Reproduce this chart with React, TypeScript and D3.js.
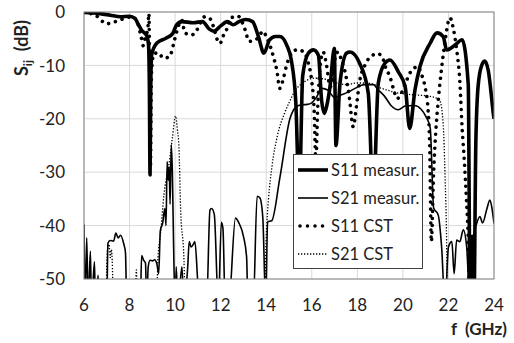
import React, { useEffect, useRef } from 'react';
import * as d3 from 'd3';

type Pt = [number, number];

// frequency (GHz), magnitude (dB)
const s11Meas: Pt[] = [
  [6, -0.1], [6.7, -0.3], [7.15, -0.6], [7.6, -0.9], [8.0, -0.8], [8.24, -1.2], [8.38, -2.3],
  [8.53, -3.4], [8.75, -4.4], [8.83, -6], [8.87, -14], [8.9, -30.5], [8.93, -14], [8.97, -8],
  [9.2, -5.8], [9.6, -4.9], [9.9, -4.0], [10.05, -2.5], [10.3, -1.8], [10.8, -2.0], [11.2, -1.8],
  [11.5, -3.2], [11.7, -3.6], [12.0, -2.6], [12.3, -1.8], [12.55, -2.4], [12.8, -1.8], [13.1, -1.4],
  [13.4, -1.8], [13.65, -4.5], [13.9, -7.7], [14.15, -5.2], [14.4, -4.6], [14.6, -4.6], [14.9, -6.2],
  [15.1, -9], [15.3, -17], [15.45, -35], [15.6, -12], [15.85, -7.7], [16.07, -7.1], [16.29, -8.1],
  [16.43, -16.5], [16.55, -19], [16.65, -17.7], [16.8, -14], [16.99, -6.8], [17.06, -25], [17.24, -13.3],
  [17.53, -7.7], [17.68, -7.5], [18.1, -9.6], [18.48, -15.2], [18.7, -35], [18.92, -13.3], [19.21, -9.6],
  [19.43, -9], [19.8, -11.2], [20.1, -14], [20.3, -21.8], [20.53, -14.6], [20.75, -10.2], [21.19, -5.9],
  [21.5, -3.9], [21.77, -4.6], [21.92, -7.1], [22.29, -6.2], [22.6, -5.2], [22.87, -13.6], [22.95, -55],
  [23.05, -42], [23.12, -55], [23.2, -25], [23.3, -14], [23.46, -10], [23.6, -9.2], [23.75, -11],
  [23.97, -19], [24, -20],
];

const s21Meas: Pt[] = [
  [6.0, -39.8], [6.04, -55], [6.12, -42.3], [6.18, -55], [6.28, -44.8], [6.33, -55], [6.46, -46.8],
  [6.5, -55], [6.62, -49.3], [6.66, -55], [7.0, -55], [7.05, -43.3], [7.15, -42.8], [7.3, -42.9],
  [7.4, -41.4], [7.5, -42.3], [7.6, -41.8], [7.75, -43.5], [7.82, -45], [7.88, -55], [8.47, -55],
  [8.53, -45.6], [8.62, -46.5], [8.7, -47], [8.75, -55], [8.82, -47.7], [8.9, -46.5], [9.0, -46.6],
  [9.1, -46.4], [9.2, -47.2], [9.28, -49], [9.35, -41], [9.45, -39.6], [9.55, -36.8], [9.6, -40],
  [9.65, -28], [9.7, -31.5], [9.74, -29], [9.78, -36], [9.83, -24.8], [9.88, -30], [9.93, -42.9],
  [10.0, -55], [10.05, -47.7], [10.12, -55], [10.3, -47.7], [10.38, -55], [10.55, -48], [10.62, -43],
  [10.7, -44], [10.8, -43.5], [10.87, -43], [10.98, -49.6], [11.05, -55], [11.38, -55], [11.53, -37.1],
  [11.6, -36.8], [11.72, -37.9], [11.9, -55], [12.03, -39.4], [12.1, -40.5], [12.2, -55], [12.35, -55],
  [12.65, -38.6], [12.8, -39.5], [13.0, -42], [13.14, -46], [13.2, -55], [13.43, -55], [13.6, -34.5],
  [13.72, -34.8], [13.85, -38.5], [13.98, -55], [14.06, -39.3], [14.24, -39.1], [14.6, -31], [15.04, -20],
  [15.3, -17.8], [15.5, -17.4], [15.8, -17.3], [16.0, -17], [16.2, -16], [16.45, -14.3], [16.7, -14.6],
  [17.0, -16], [17.3, -15.5], [17.6, -15], [17.9, -14.3], [18.3, -13.6], [18.7, -13.6], [18.9, -14.5],
  [19.2, -15.8], [19.5, -17.6], [19.8, -18.3], [20.1, -17.6], [20.5, -17.5], [20.8, -18.2], [21.0, -19.5],
  [21.2, -21.7], [21.35, -36.7], [21.55, -38], [21.7, -44], [21.85, -55], [22.0, -44], [22.15, -43],
  [22.25, -49], [22.36, -42.7], [22.5, -43], [22.65, -40.8], [22.8, -44], [22.95, -55], [23.1, -42],
  [23.24, -39.6], [23.38, -38.3], [23.5, -39.5], [23.68, -37], [23.82, -35.2], [23.9, -36.5], [24, -39.6],
];

const s11Cst: Pt[] = [
  [6, -0.1], [6.5, -0.6], [7.0, -2.2], [7.3, -1.9], [7.7, -1.3], [8.1, -0.9], [8.35, -2], [8.5, -4.5],
  [8.6, -6.3], [8.7, -4.5], [8.8, -3.2], [8.85, -0.3], [8.88, -10], [8.92, -29], [8.96, -12], [9.05, -8],
  [9.26, -7.6], [9.48, -8.6], [9.7, -8.5], [9.85, -7.4], [9.92, -6.2], [10.07, -3.7], [10.29, -1.5],
  [10.43, -3.9], [10.73, -4.3], [10.95, -3.4], [11.3, -0.9], [11.5, -1.1], [11.68, -2.7], [11.85, -5.2],
  [11.97, -5.9], [12.1, -4.6], [12.26, -3.3], [12.45, -1.1], [12.77, -0.8], [13.07, -3.3], [13.25, -5.5],
  [13.43, -5.4], [13.6, -5], [13.87, -3.6], [14.0, -4.6], [14.2, -6.7], [14.31, -8.3], [14.46, -10.8],
  [14.6, -14.3], [14.75, -12.5], [14.9, -9.9], [15.12, -7.7], [15.34, -7.1], [15.63, -7.4], [15.85, -9.6],
  [16.0, -13], [16.1, -18], [16.18, -28], [16.26, -18], [16.4, -9], [16.5, -7.5], [16.65, -10],
  [16.8, -14], [16.95, -12], [17.05, -8], [17.15, -7.5], [17.3, -9], [17.5, -12], [17.65, -16],
  [17.82, -21.5], [17.95, -18], [18.1, -13], [18.33, -10], [18.6, -8.3], [18.9, -7.8], [19.1, -8.5],
  [19.25, -10.5], [19.43, -12.1], [19.6, -14.6], [19.75, -16.2], [19.9, -15.5], [20.1, -13.5],
  [20.3, -11.5], [20.5, -10.5], [20.65, -10.2], [20.8, -11.5], [20.97, -14], [21.1, -18], [21.17, -24],
  [21.25, -43], [21.35, -30], [21.45, -22], [21.55, -16.7], [21.7, -10.5], [21.85, -5.5], [22.0, -1.7],
  [22.07, -1.1], [22.21, -3], [22.35, -6.7], [22.5, -13], [22.6, -21.7], [22.7, -28], [22.78, -34.3],
  [22.87, -43], [22.95, -60], [24, -60],
];

const s21Cst: Pt[] = [
  [6, -60], [6.95, -60], [7.0, -47], [7.05, -44], [7.1, -43.5], [7.15, -46], [7.2, -44.5], [7.25, -48],
  [7.3, -60], [8.2, -60], [8.3, -48.3], [8.36, -60], [9.15, -60], [9.25, -46], [9.35, -42], [9.51, -34.2],
  [9.73, -28.6], [9.88, -23.6], [10.02, -19.5], [10.1, -22], [10.17, -25.5], [10.24, -36.7], [10.39, -46.6],
  [10.47, -60], [13.88, -60], [14.0, -42], [14.1, -35], [14.25, -29], [14.5, -23], [14.8, -19], [15.0, -17],
  [15.26, -14.8], [15.7, -13], [16.1, -12.4], [16.5, -12.5], [17.0, -13.2], [17.5, -13.6], [18.0, -13.3],
  [18.33, -13.3], [18.7, -13.5], [19.0, -14.2], [19.3, -14.6], [19.6, -15], [20.0, -15.3], [20.4, -15.5],
  [20.8, -15.6], [21.2, -15.8], [21.5, -16.2], [21.63, -16.7], [21.77, -21.1], [21.85, -30.5], [21.92, -43],
  [21.97, -60], [24, -60],
];

const xTicks = [6, 8, 10, 12, 14, 16, 18, 20, 22, 24];
const yTicks = [0, -10, -20, -30, -40, -50];
const legendLabels = ['S11 measur.', 'S21 measur.', 'S11 CST', 'S21 CST'];

const FONT = 'Lato, "Open Sans", sans-serif';

export default function App() {
  const svgRef = useRef<SVGSVGElement>(null);

  useEffect(() => {
    if (!svgRef.current) return;
    const width = 514;
    const height = 343;
    const left = 84, right = 494, top = 12, bottom = 279;

    const svg = d3.select(svgRef.current);
    svg.selectAll('*').remove();
    svg.attr('width', width).attr('height', height);

    svg.append('rect').attr('width', width).attr('height', height).attr('fill', '#fff');

    const x = d3.scaleLinear().domain([6, 24]).range([left, right]);
    const y = d3.scaleLinear().domain([-50, 0]).range([bottom, top]);

    // grid
    const grid = svg.append('g');
    grid.selectAll('.gx').data(xTicks).enter().append('line')
      .attr('x1', (d) => x(d)).attr('x2', (d) => x(d))
      .attr('y1', top).attr('y2', bottom)
      .attr('stroke', '#d9d9d9').attr('stroke-width', 1);
    grid.selectAll('.gy').data(yTicks).enter().append('line')
      .attr('x1', left).attr('x2', right)
      .attr('y1', (d) => y(d)).attr('y2', (d) => y(d))
      .attr('stroke', '#d9d9d9').attr('stroke-width', 1);

    // tick labels
    svg.selectAll('.xt').data(xTicks).enter().append('text')
      .attr('x', (d) => x(d)).attr('y', 311)
      .attr('text-anchor', 'middle')
      .style('font-family', FONT).style('font-size', '17px').style('fill', '#222')
      .text((d) => d);
    svg.selectAll('.yt').data(yTicks).enter().append('text')
      .attr('x', 65).attr('y', (d) => y(d))
      .attr('dy', '0.36em')
      .attr('text-anchor', 'end')
      .style('font-family', FONT).style('font-size', '17px').style('fill', '#222')
      .text((d) => d);

    svg.append('defs').append('clipPath').attr('id', 'plot-clip')
      .append('rect').attr('x', left).attr('y', top)
      .attr('width', right - left).attr('height', bottom - top);

    const line = d3.line<Pt>()
      .x((d) => x(d[0]))
      .y((d) => y(d[1]))
      .curve(d3.curveMonotoneX);

    const plot = svg.append('g').attr('clip-path', 'url(#plot-clip)');

    const series = [
      { data: s21Cst, width: 1.3, dash: '1.3 1.7', cap: 'butt' },
      { data: s11Cst, width: 3.6, dash: '0.01 7', cap: 'round' },
      { data: s21Meas, width: 1.6, dash: null, cap: 'butt' },
      { data: s11Meas, width: 3.6, dash: null, cap: 'butt' },
    ];

    series.forEach((s) => {
      const p = plot.append('path')
        .attr('d', line(s.data))
        .attr('fill', 'none')
        .attr('stroke', '#000')
        .attr('stroke-width', s.width)
        .attr('stroke-linejoin', 'round')
        .attr('stroke-linecap', s.cap);
      if (s.dash) p.attr('stroke-dasharray', s.dash);
    });

    // plot border
    svg.append('rect')
      .attr('x', left).attr('y', top)
      .attr('width', right - left).attr('height', bottom - top)
      .attr('fill', 'none').attr('stroke', '#868686').attr('stroke-width', 1);

    // legend
    const lg = svg.append('g');
    lg.append('rect')
      .attr('x', 293.5).attr('y', 154.5).attr('width', 129).attr('height', 114)
      .attr('fill', '#fff').attr('stroke', '#404040').attr('stroke-width', 1);
    const styles = [
      { width: 3.6, dash: null, cap: 'butt' },
      { width: 1.6, dash: null, cap: 'butt' },
      { width: 3.6, dash: '0.01 7.5', cap: 'round' },
      { width: 1.3, dash: '1.3 1.7', cap: 'butt' },
    ];
    const rowY = [170, 198, 226, 254];
    legendLabels.forEach((label, i) => {
      const st = styles[i];
      const l = lg.append('line')
        .attr('x1', i === 2 ? 300 : 298).attr('x2', 328)
        .attr('y1', rowY[i]).attr('y2', rowY[i])
        .attr('stroke', '#000').attr('stroke-width', st.width)
        .attr('stroke-linecap', st.cap);
      if (st.dash) l.attr('stroke-dasharray', st.dash);
      lg.append('text')
        .attr('x', 331).attr('y', rowY[i]).attr('dy', '0.36em')
        .style('font-family', FONT).style('font-size', '16.5px').style('fill', '#222')
        .text(label);
    });

    // axis titles
    const yt = svg.append('text')
      .attr('transform', 'translate(28,48) rotate(-90)')
      .attr('text-anchor', 'middle')
      .style('font-family', FONT).style('font-size', '18px').style('font-weight', 'bold').style('fill', '#222');
    yt.append('tspan').text('S');
    yt.append('tspan').attr('dy', 4).style('font-size', '12px').text('ij');
    yt.append('tspan').attr('dy', -4).text('\u00a0\u00a0(dB)');

    svg.append('text')
      .attr('x', 507).attr('y', 335)
      .attr('text-anchor', 'end')
      .style('font-family', FONT).style('font-size', '17px').style('font-weight', 'bold').style('fill', '#222')
      .text('f\u00a0\u00a0(GHz)');
  }, []);

  return (
    <div style={{ position: 'absolute', left: 0, top: 0 }}>
      <svg ref={svgRef} style={{ display: 'block' }} />
    </div>
  );
}
